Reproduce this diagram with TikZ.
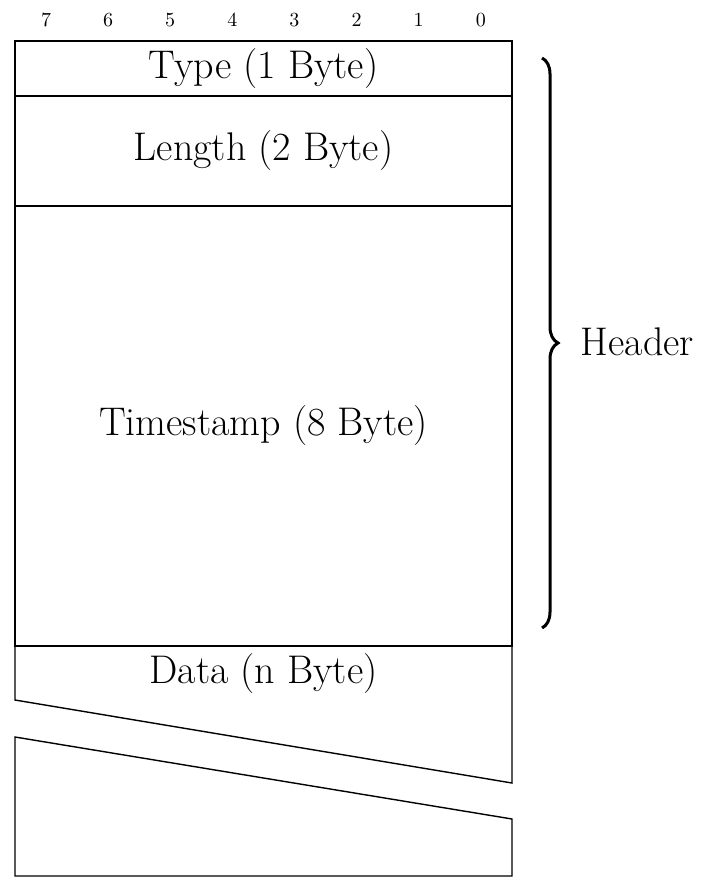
\documentclass[tikz,border=0pt]{standalone}
\usepackage{tikz}
\usetikzlibrary{positioning}
\usetikzlibrary{decorations.pathreplacing}

\begin{document}
\begin{tikzpicture}[x=0.5pt,y=-0.5pt,line width=0.7pt,node distance=31.06pt,
  bit/.style={font=\fontsize{10}{12}\selectfont,inner sep=1pt},
  field/.style={draw,outer sep=0pt,inner sep=0pt,minimum width=248.5pt,font=\fontsize{20}{24}\selectfont}]
  \useasboundingbox (0,0) rectangle (719,886);
  % bit numbers
  \node[bit] (7) at (46,20) {7};
  \node[bit,right of=7] (6) {6};
  \node[bit,right of=6] (5) {5};
  \node[bit,right of=5] (4) {4};
  \node[bit,right of=4] (3) {3};
  \node[bit,right of=3] (2) {2};
  \node[bit,right of=2] (1) {1};
  \node[bit,right of=1] (0) {0};

  \node[field,minimum height=27.5pt,anchor=north west] (type) at (15,41) {Type (1 Byte)};
  \node[field,minimum height=55pt,below=0pt of type] (length) {Length (2 Byte)};
  \node[field,minimum height=220pt,below=0pt of length] (time) {Timestamp (8 Byte)};
  \node[font=\fontsize{20}{24}\selectfont,below=0pt of time,inner sep=3.5pt] (data) {Data (n Byte)};

  % cut data field
  \draw (time.south west)--(15,700)--(512,783)--(time.south east);
  \draw (15,737)--(15,876)--(512,876)--(512,819)--cycle;

  \coordinate (hs) at (542,58);
  \coordinate (he) at (542,628);
  \draw[decorate,decoration={brace,amplitude=8pt},line width=1.5pt](hs)--(he);
  \node[font=\fontsize{20}{24}\selectfont,anchor=west,inner sep=0pt] (header) at (580,342) {Header};
\end{tikzpicture}
\end{document}
